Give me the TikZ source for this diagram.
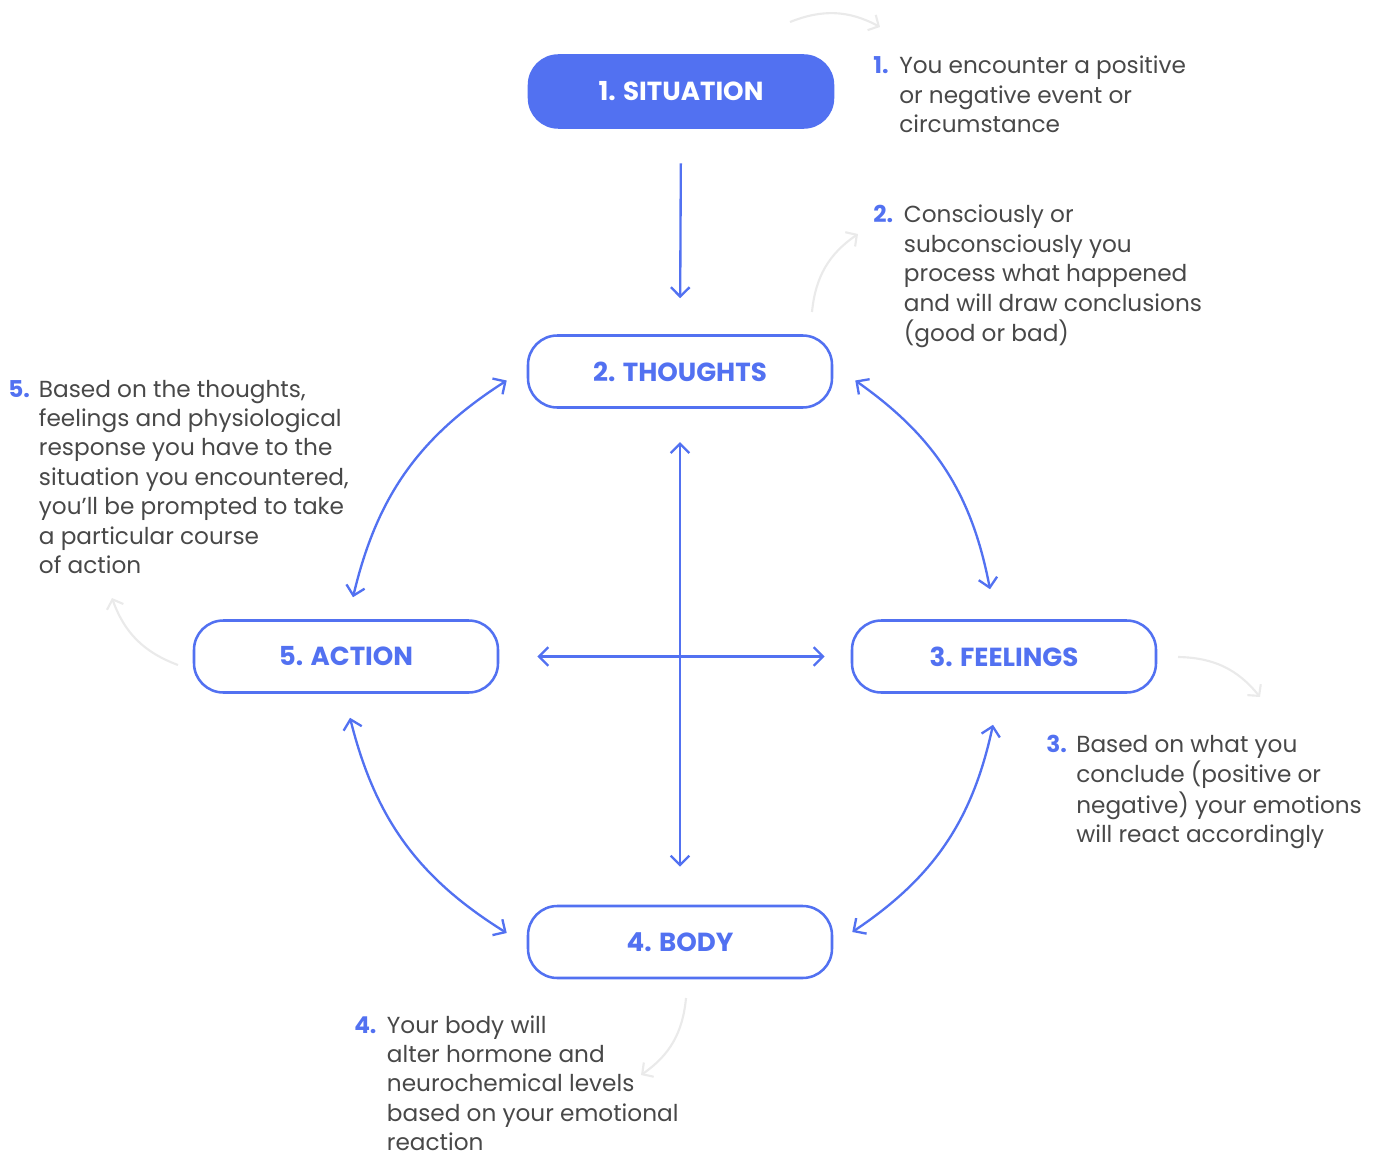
\documentclass[tikz,border=0pt]{standalone}
\usepackage{fontspec}
\setmainfont{Poppins}
\usetikzlibrary{arrows.meta,calc}
\definecolor{cblue}{RGB}{82,113,241}
\definecolor{txtgrey}{RGB}{72,72,72}
\definecolor{lightgrey}{RGB}{234,234,234}
\newcommand\descfont{\fontsize{17.4}{22.1}\selectfont}
\newcommand\boxfont{\fontsize{19.6}{22}\selectfont\bfseries}
\newcommand\num[1]{\textcolor{cblue}{\bfseries #1}}
\begin{document}
\begin{tikzpicture}[x=0.75pt,y=-0.75pt,
  stepbox/.style={draw=cblue, line width=1.9pt, fill=white, rounded corners=22pt,
    minimum width=228pt, minimum height=54pt, text=cblue, font=\boxfont, inner sep=0pt},
  stepboxfill/.style={stepbox, fill=cblue, text=white},
  arr/.style={draw=cblue, line width=1.75pt, -{Straight Barb[length=7pt,width=14pt]}},
  darr/.style={draw=cblue, line width=1.75pt, {Straight Barb[length=7pt,width=14pt]}-{Straight Barb[length=7pt,width=14pt]}},
  garr/.style={draw=lightgrey, line width=1.6pt, -{Straight Barb[length=6pt,width=13pt]}},
  desc/.style={anchor=base west, inner sep=0pt, text=txtgrey, font=\descfont}]
\useasboundingbox (0,0) rectangle (1378,1152);

% boxes
\node[stepboxfill] (situation) at (681,91.5) {1. SITUATION};
\node[stepbox] (thoughts) at (680,371.5) {2. THOUGHTS};
\node[stepbox] (action) at (346,656.5) {5. ACTION};
\node[stepbox] (feelings) at (1004,656.5) {3. FEELINGS};
\node[stepbox] (body) at (680,942) {4. BODY};

% straight connectors
\draw[arr, shorten <=26pt, shorten >=27pt] (situation.south) -- (thoughts.north);
\draw[darr, shorten <=25pt, shorten >=28.5pt] (thoughts.south) -- (body.north);
\draw[darr, shorten <=28.5pt, shorten >=19.5pt] (action.east) -- (feelings.west);

% curved connectors
\draw[darr] ($(thoughts.east)+(22,9)$) to[bend left=22] ($(feelings.north)+(-14,-30)$);
\draw[darr] ($(thoughts.west)+(-20,9)$) to[bend right=22] ($(action.north)+(7,-22)$);
\draw[darr] ($(action.south)+(4,24)$) to[bend right=22] ($(body.west)+(-20,-9)$);
\draw[darr] ($(feelings.south)+(-11,31)$) to[bend left=22] ($(body.east)+(19,-10)$);

% descriptions
\node[desc] (d1) at (873,74) {\begin{tabular}[t]{@{}p{19.5pt}@{}l@{}}\num{1.} & You encounter a positive\\ & or negative event or\\ & circumstance\end{tabular}};
\node[desc] (d2) at (873,223) {\begin{tabular}[t]{@{}p{23pt}@{}l@{}}\num{2.} & Consciously or\\ & subconsciously you\\ & process what happened\\ & and will draw conclusions\\ & (good or bad)\end{tabular}};
\node[desc] (d5) at (8,397) {\begin{tabular}[t]{@{}p{23pt}@{}l@{}}\num{5.} & Based on the thoughts,\\ & feelings and physiological\\ & response you have to the\\ & situation you encountered,\\ & you’ll be prompted to take\\ & a particular course\\ & of action\end{tabular}};
\node[desc] (d3) at (1046,752) {\begin{tabular}[t]{@{}p{22.5pt}@{}l@{}}\num{3.} & Based on what you\\ & conclude (positive or\\ & negative) your emotions\\ & will react accordingly\end{tabular}};
\node[desc] (d4) at (354,1033) {\begin{tabular}[t]{@{}p{24.5pt}@{}l@{}}\num{4.} & Your body will\\ & alter hormone and\\ & neurochemical levels\\ & based on your emotional\\ & reaction\end{tabular}};

% light decorative arrows
\coordinate (g1a) at (790,22); \coordinate (g1b) at (880,27);
\coordinate (g2a) at (812,312); \coordinate (g2b) at (858,234);
\coordinate (g5a) at (178,665); \coordinate (g5b) at (112,598);
\coordinate (g3a) at (1178,657); \coordinate (g3b) at (1260,697);
\coordinate (g4a) at (686,998); \coordinate (g4b) at (641,1075);
\draw[garr] (g1a) to[bend left=25] (g1b);
\draw[garr] (g2a) to[bend left=25] (g2b);
\draw[garr] (g5a) to[bend left=25] (g5b);
\draw[garr] (g3a) to[bend left=25] (g3b);
\draw[garr] (g4a) to[bend left=25] (g4b);
\end{tikzpicture}
\end{document}
